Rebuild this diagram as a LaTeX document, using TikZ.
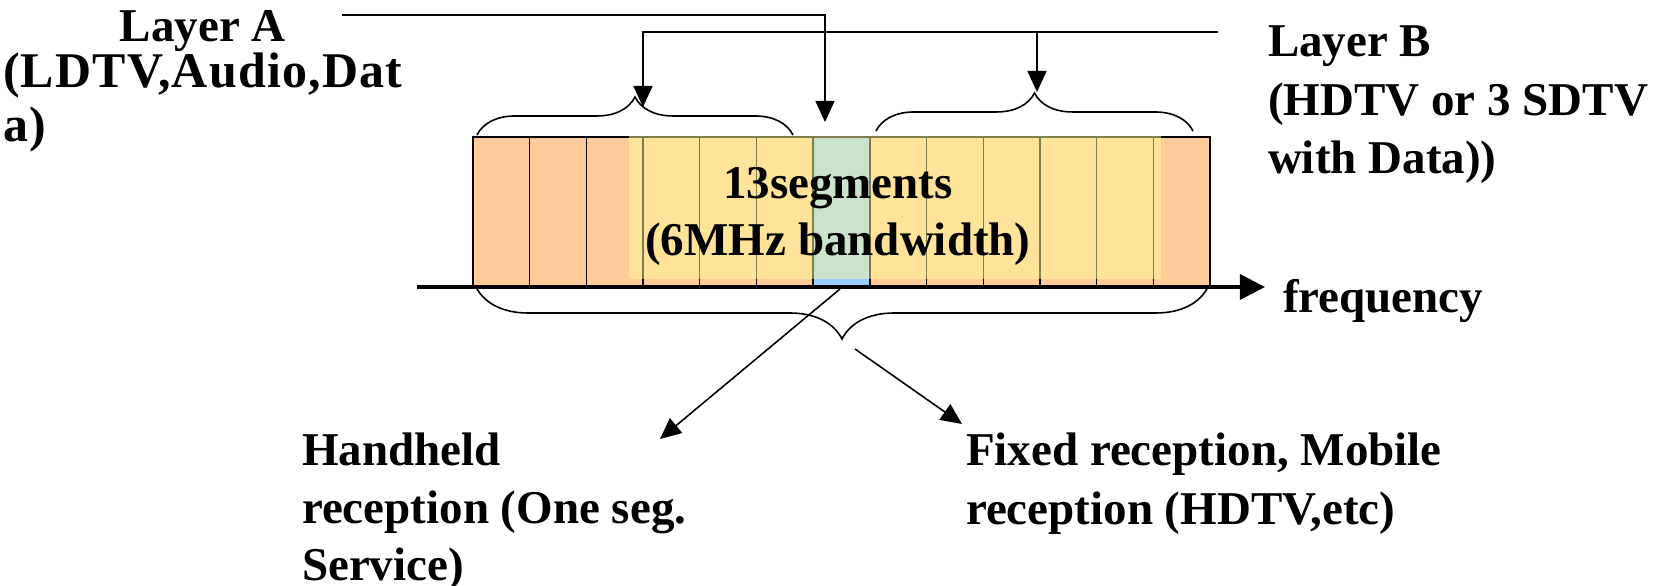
\documentclass[tikz,border=0pt]{standalone}
\usepackage{fontspec}
\setmainfont{Liberation Serif}
\usetikzlibrary{arrows.meta,decorations.pathreplacing}
\definecolor{segorange}{RGB}{255,204,153}
\definecolor{segblue}{RGB}{153,204,255}
\definecolor{overlayyellow}{RGB}{255,250,153}
\newlength{\layerAwidth}
\newcommand{\txtblock}[3]{{\fontsize{13.37pt}{#2}\selectfont\bfseries\begin{tabular}[t]{@{}#1@{}}#3\end{tabular}}}
\newcommand{\widerline}{\fontsize{14.2pt}{12.6pt}\selectfont\addfontfeature{LetterSpace=2.5}}
\tikzset{
  arr/.style={-{Triangle[length=0.21cm,width=0.19cm]}, line width=0.45pt},
  bracedeco/.style={decorate, decoration={brace, amplitude=#1}, line width=0.45pt},
  label/.style={inner sep=0pt, outer sep=0pt}
}
\begin{document}
\begin{tikzpicture}[x=0.01cm, y=-0.01cm]
\useasboundingbox (0,0) rectangle (1668,586);

% segments
\foreach \i in {0,...,12}{
  \pgfmathsetmacro{\xa}{473+56.69*\i}
  \pgfmathsetmacro{\xb}{473+56.69*(\i+1)}
  \ifnum\i=6 \def\segcol{segblue}\else\def\segcol{segorange}\fi
  \draw[fill=\segcol, line width=0.4pt] (\xa,137) rectangle (\xb,287);
}
% translucent yellow overlay
\fill[overlayyellow, opacity=0.5] (629,136) rectangle (1161,279);

% frequency axis
\coordinate (axL) at (417,287);
\coordinate (axR) at (1265,287);
\draw[line width=1pt, -{Triangle[length=0.25cm,width=0.25cm]}] (axL) -- (axR);

% braces
\draw[bracedeco=0.38cm] (477,135) -- (793,135);
\draw[bracedeco=0.38cm] (876,131) -- (1193,131);
\draw[bracedeco=0.52cm] (1208,287) -- (476,287);

% texts
\node[label, anchor=base west] (layerA) at (3,42)
  {\bfseries\fontsize{13.37pt}{13pt}\selectfont
   \settowidth{\layerAwidth}{\widerline(LDTV,Audio,Dat}%
   \vtop{\lineskiplimit=-\maxdimen\baselineskip=13pt
     \hbox to\layerAwidth{\hss Layer A\hss}
     \hbox{\widerline(LDTV,Audio,Dat}
     \vskip2.4pt
     \hbox{\widerline a)}}};
\node[label, anchor=base west] (layerB) at (1268,57)
  {\txtblock{l}{16.5pt}{Layer B\\(HDTV or 3 SDTV\\with Data))}};
\node[label, anchor=base west] (freq) at (1283,313)
  {\txtblock{l}{16.5pt}{frequency}};
\node[label, anchor=base] (segtext) at (838,199)
  {\txtblock{c}{16.2pt}{13segments\\(6MHz bandwidth)}};
\node[label, anchor=base west] (handheld) at (302,466)
  {\txtblock{l}{16.3pt}{Handheld\\reception (One seg.\\Service)}};
\node[label, anchor=base west] (fixed) at (966,466)
  {\txtblock{l}{16.5pt}{Fixed reception, Mobile\\reception (HDTV,etc)}};

% Layer A connector
\coordinate (aStart) at (342,15);
\coordinate (aTip) at (825,122);
\draw[arr] (aStart) -| (aTip);

% Layer B connectors
\coordinate (bStart) at (1218,32);
\coordinate (bTipL) at (643,107);
\coordinate (bTipR) at (1037,92);
\draw[arr] (bStart) -| (bTipL);
\draw[arr] (bTipR |- bStart) -- (bTipR);

% reception connectors
\coordinate (hStart) at (840,289);
\coordinate (hTip) at (660,439);
\draw[arr] (hStart) -- (hTip);
\coordinate (fStart) at (855,349);
\coordinate (fTip) at (962,424);
\draw[arr] (fStart) -- (fTip);
\end{tikzpicture}
\end{document}
